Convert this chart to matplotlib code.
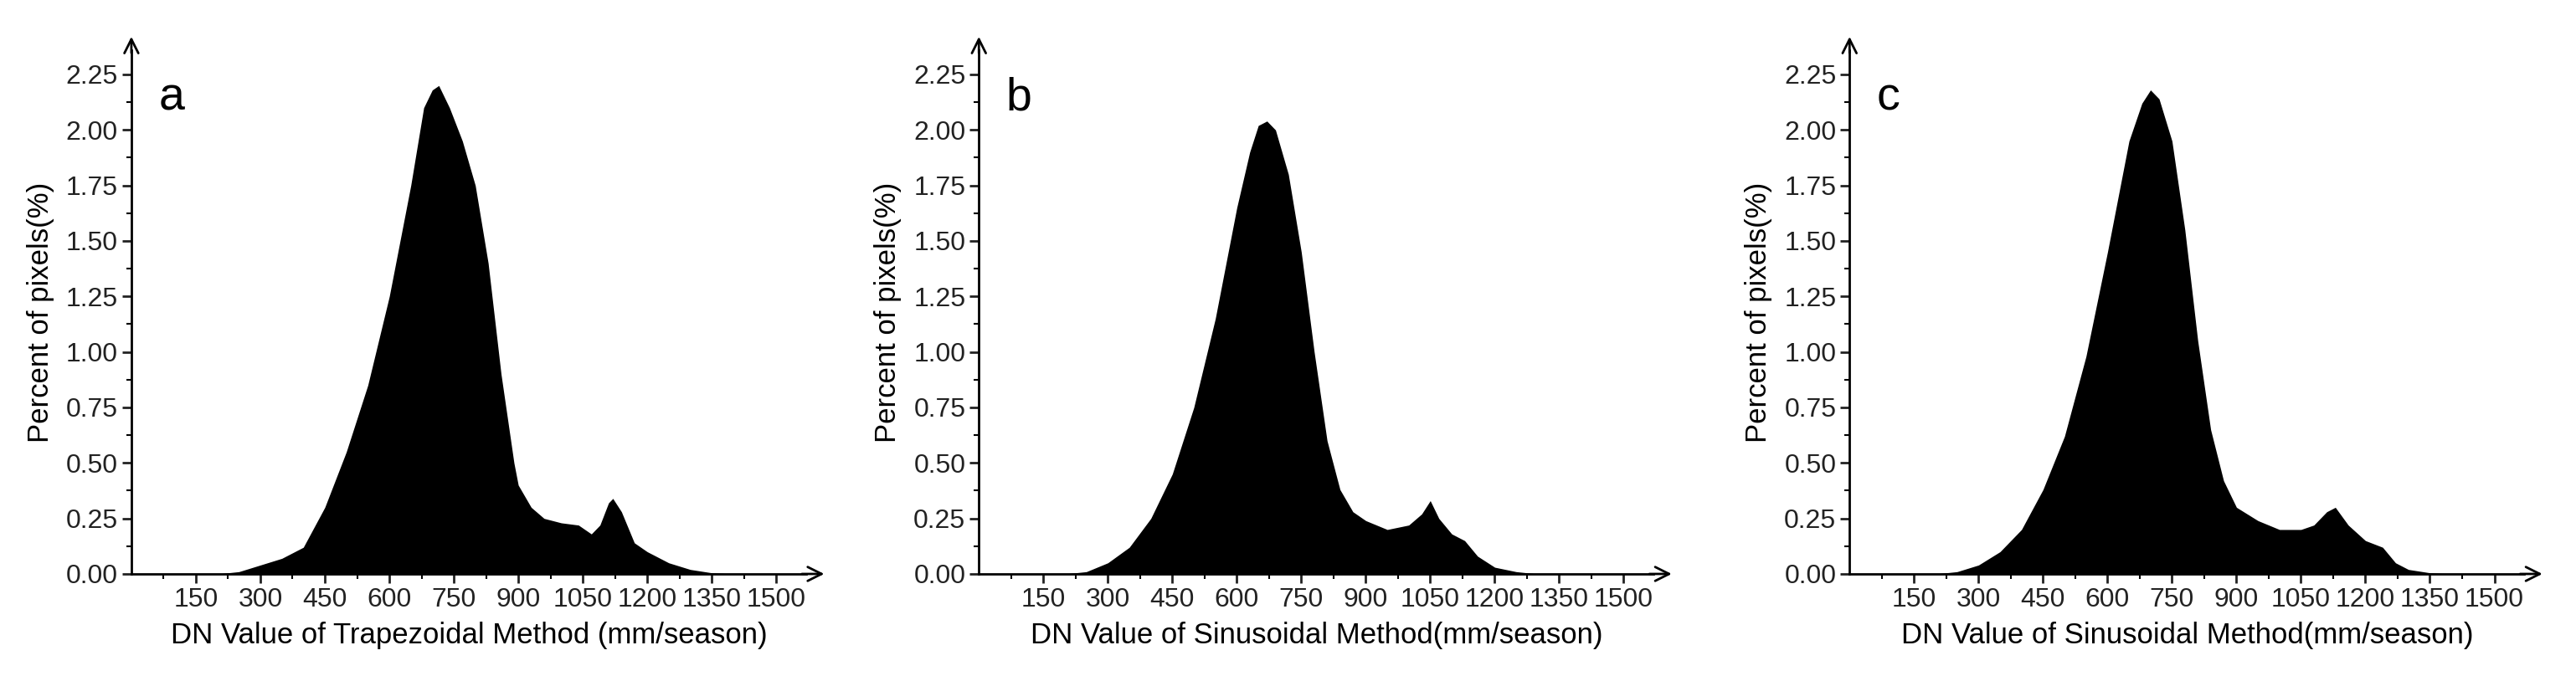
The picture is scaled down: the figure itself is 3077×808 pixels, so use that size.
import matplotlib
matplotlib.use("Agg")
import matplotlib.pyplot as plt
import numpy as np

plt.rcParams["font.family"] = ["Liberation Sans", "DejaVu Sans"]

# (x, percent)
xa = [0, 200, 250, 300, 350, 400, 450, 500, 550, 600, 650, 680, 700, 715, 740, 770, 800, 830, 860,
      890, 900, 930, 960, 1000, 1040, 1070, 1090, 1110, 1120, 1140, 1170, 1200, 1250, 1300, 1350, 1400]
ya = [0, 0, 0.01, 0.04, 0.07, 0.12, 0.3, 0.55, 0.85, 1.25, 1.75, 2.1, 2.18, 2.2, 2.1, 1.95, 1.75, 1.4, 0.9,
      0.5, 0.4, 0.3, 0.25, 0.23, 0.22, 0.18, 0.22, 0.32, 0.34, 0.28, 0.14, 0.1, 0.05, 0.02, 0.005, 0]

xb = [0, 200, 250, 300, 350, 400, 450, 500, 550, 600, 630, 650, 670, 690, 720, 750, 780, 810, 840,
      870, 900, 950, 1000, 1030, 1050, 1070, 1100, 1130, 1160, 1200, 1250, 1300]
yb = [0, 0, 0.01, 0.05, 0.12, 0.25, 0.45, 0.75, 1.15, 1.65, 1.9, 2.02, 2.04, 2.0, 1.8, 1.45, 1.0, 0.6, 0.38,
      0.28, 0.24, 0.2, 0.22, 0.27, 0.33, 0.25, 0.18, 0.15, 0.08, 0.03, 0.01, 0]

xc = [0, 200, 250, 300, 350, 400, 450, 500, 550, 600, 650, 680, 700, 720, 750, 780, 810, 840, 870,
      900, 950, 1000, 1050, 1080, 1110, 1130, 1160, 1200, 1240, 1270, 1300, 1350, 1400]
yc = [0, 0, 0.01, 0.04, 0.1, 0.2, 0.38, 0.62, 0.98, 1.45, 1.95, 2.12, 2.18, 2.14, 1.95, 1.55, 1.05, 0.65, 0.42,
      0.3, 0.24, 0.2, 0.2, 0.22, 0.28, 0.3, 0.22, 0.15, 0.12, 0.05, 0.02, 0.005, 0]

panels = [
    ("a", xa, ya, "DN Value of Trapezoidal Method (mm/season)"),
    ("b", xb, yb, "DN Value of Sinusoidal Method(mm/season)"),
    ("c", xc, yc, "DN Value of Sinusoidal Method(mm/season)"),
]
xticks = list(range(150, 1501, 150))
yticks = [0, 0.25, 0.5, 0.75, 1.0, 1.25, 1.5, 1.75, 2.0, 2.25]

fig = plt.figure(figsize=(30.77, 8.08), dpi=100)
lefts = [0.051, 0.380, 0.718]
for left, (letter, x, y, xlabel) in zip(lefts, panels):
    ax = fig.add_axes([left, 0.151, 0.262, 0.775])
    ax.fill_between(x, y, color="black", lw=0)
    ax.set_xlim(0, 1570)
    ax.set_ylim(0, 2.36)
    ax.set_xticks(xticks)
    ax.set_xticks(np.arange(75, 1570, 75), minor=True)
    ax.set_yticks(yticks)
    ax.set_yticklabels([f"{v:.2f}" for v in yticks])
    ax.set_yticks(np.arange(0.125, 2.3, 0.125), minor=True)
    for s in ("top", "right"):
        ax.spines[s].set_visible(False)
    for s in ("left", "bottom"):
        ax.spines[s].set_linewidth(2)
    ax.tick_params(labelsize=23, width=2, length=8, colors="#222222")
    ax.tick_params(which="minor", width=1.5, length=4)
    ax.set_xlabel(xlabel, fontsize=25, labelpad=8)
    ax.set_ylabel("Percent of pixels(%)", fontsize=25, labelpad=10)
    ax.text(0.04, 0.95, letter, transform=ax.transAxes, fontsize=40, va="top")
    ax.annotate("", xy=(1.03, 0), xytext=(0.99, 0), xycoords="axes fraction",
                arrowprops=dict(arrowstyle="->", lw=2, mutation_scale=30), annotation_clip=False)
    ax.annotate("", xy=(0, 1.03), xytext=(0, 0.99), xycoords="axes fraction",
                arrowprops=dict(arrowstyle="->", lw=2, mutation_scale=30), annotation_clip=False)

fig.savefig("out.png", dpi=100)
